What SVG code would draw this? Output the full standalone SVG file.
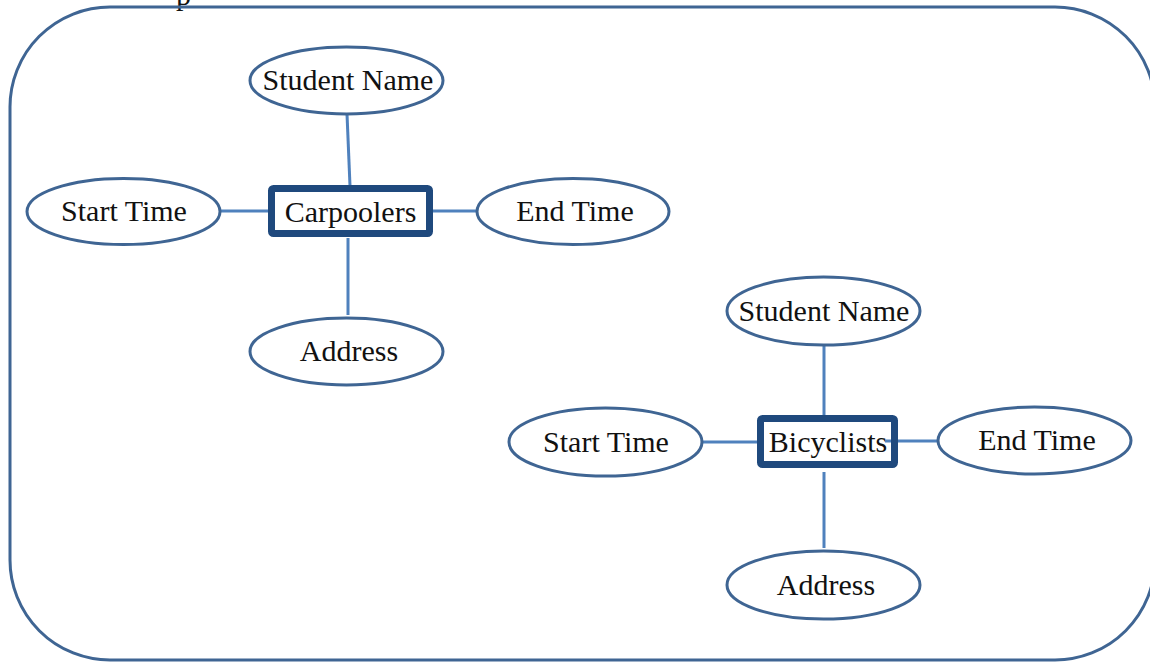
<svg xmlns="http://www.w3.org/2000/svg" width="1150" height="662" viewBox="0 0 1150 662">
<style>
.frame{fill:none;stroke:#3F6593;stroke-width:3}
.attr{fill:#fff;stroke:#3F6593;stroke-width:3}
.ent{fill:#fff;stroke:#1F497D;stroke-width:7}
.conn{stroke:#4F81BD;stroke-width:3;fill:none}
text{font-family:"Liberation Serif","DejaVu Serif",serif;font-size:30px;fill:#111;text-anchor:middle}
</style>
<rect width="1150" height="662" fill="#fff"/>
<text x="176" y="5" style="text-anchor:start">p</text>
<rect class="frame" x="10" y="7" width="1145" height="653" rx="100" ry="100"/>
<g id="connectors">
<line class="conn" x1="347" y1="114" x2="350" y2="186"/>
<line class="conn" x1="220" y1="211" x2="269" y2="211"/>
<line class="conn" x1="432" y1="211" x2="478" y2="211"/>
<line class="conn" x1="348" y1="238" x2="348" y2="315"/>
<line class="conn" x1="824" y1="345" x2="824" y2="416"/>
<line class="conn" x1="702" y1="442" x2="758" y2="442"/>
<line class="conn" x1="885" y1="441" x2="939" y2="441"/>
<line class="conn" x1="824" y1="472" x2="824" y2="548"/>
</g>
<g id="carpoolers">
<rect class="ent" x="271.5" y="188.5" width="158" height="45" rx="2"/>
<text x="350.5" y="222">Carpoolers</text>
</g>
<g id="carp-student-name">
<ellipse class="attr" cx="346.5" cy="80.5" rx="96.5" ry="33.5"/>
<text x="348" y="90">Student Name</text>
</g>
<g id="carp-start-time">
<ellipse class="attr" cx="123.5" cy="211.5" rx="96.5" ry="33"/>
<text x="124" y="221">Start Time</text>
</g>
<g id="carp-end-time">
<ellipse class="attr" cx="573" cy="211.5" rx="96" ry="33"/>
<text x="575" y="221">End Time</text>
</g>
<g id="carp-address">
<ellipse class="attr" cx="346.5" cy="351.5" rx="96.5" ry="33.5"/>
<text x="349" y="361">Address</text>
</g>
<g id="bicyclists">
<rect class="ent" x="760.5" y="418.5" width="134" height="46" rx="2"/>
<text x="828" y="452">Bicyclists</text>
<line class="conn" x1="885" y1="441" x2="891" y2="441"/>
</g>
<g id="bic-student-name">
<ellipse class="attr" cx="823.5" cy="311" rx="96.5" ry="34"/>
<text x="824" y="321">Student Name</text>
</g>
<g id="bic-start-time">
<ellipse class="attr" cx="605.5" cy="442" rx="96.5" ry="34"/>
<text x="606" y="452">Start Time</text>
</g>
<g id="bic-end-time">
<ellipse class="attr" cx="1034.5" cy="440.5" rx="96.5" ry="33.5"/>
<text x="1037" y="450">End Time</text>
</g>
<g id="bic-address">
<ellipse class="attr" cx="823.5" cy="585" rx="96.5" ry="34"/>
<text x="826" y="595">Address</text>
</g>
</svg>
